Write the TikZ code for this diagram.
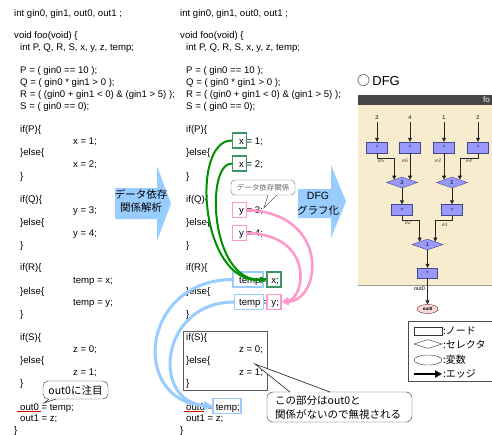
\documentclass[tikz,border=0pt]{standalone}
\usepackage{fontspec}
\setmainfont{Liberation Sans}
\newfontfamily\cjk{Noto Sans CJK JP}
\usetikzlibrary{arrows.meta,shapes.geometric,calc}
\definecolor{arrowblue}{RGB}{153,204,255}
\definecolor{cgreen}{RGB}{0,145,0}
\definecolor{gboxc}{RGB}{60,150,100}
\definecolor{cpink}{RGB}{255,153,204}
\definecolor{cblue}{RGB}{153,204,255}
\definecolor{beige}{RGB}{248,236,206}
\definecolor{dfgfill}{RGB}{153,153,255}
\definecolor{dfgline}{RGB}{70,70,140}
\definecolor{hdrgray}{RGB}{70,70,70}
\definecolor{voutfill}{RGB}{250,215,215}
\definecolor{voutline}{RGB}{110,40,40}
\begin{document}
\begin{tikzpicture}[x=1pt,y=-1pt,
  codeln/.style={font=\fontsize{9.6}{11}\selectfont, inner sep=0pt, anchor=base west},
  hlbox/.style={draw, line width=1.2pt, minimum height=15pt, inner sep=0pt},
  greenarr/.style={draw=cgreen, line width=2pt, -{Triangle[length=6pt,width=6pt]}},
  pinkarr/.style={draw=cpink, line width=2.6pt, -{Triangle[length=7pt,width=7pt]}},
  bluearr/.style={draw=cblue, line width=3pt, -{Triangle[length=8pt,width=8pt]}},
  blocktxt/.style={font=\cjk\fontsize{10.5}{13}\selectfont, align=center, inner sep=0pt},
  dfgrect/.style={draw=dfgline, fill=dfgfill, minimum width=21pt, minimum height=11pt, inner sep=0pt, font=\fontsize{5}{5}\selectfont},
  dfgdia/.style={diamond, draw=dfgline, fill=dfgfill, minimum width=31pt, minimum height=11pt, inner sep=0pt, font=\fontsize{5.5}{5.5}\selectfont},
  dfglab/.style={font=\fontsize{5.5}{5.5}\selectfont, inner sep=0pt},
  elab/.style={font=\itshape\fontsize{5}{5}\selectfont, text=black!75, inner sep=0pt},
  dfgarr/.style={draw=black!85, line width=0.7pt, -{Triangle[length=4pt,width=4pt]}},
  legtxt/.style={font=\cjk\fontsize{10}{10}\selectfont, anchor=west, inner sep=0pt}
]
\useasboundingbox (0,0) rectangle (492,434);
\clip (0,0) rectangle (492,434);
\fill[white] (0,0) rectangle (492,434);

% ---------- block arrows ----------
\fill[arrowblue] (115,188) -- (157,188) -- (157,166) -- (171,203.5) -- (157,241) -- (157,219) -- (115,219) -- cycle;
\fill[arrowblue] (298,189) -- (331,189) -- (331,165) -- (346,201.5) -- (331,238) -- (331,218) -- (298,218) -- cycle;
\node[blocktxt] (ta1) at (141,200.5) {データ依存\\関係解析};
\node[font=\fontsize{10.5}{10.5}\selectfont, inner sep=0pt] (ta2) at (318,196) {DFG};
\node[blocktxt] (ta3) at (318,210.5) {グラフ化};

% ---------- code listings ----------
\foreach \xx/\yy/\txt [count=\i] in {
 14/13/{int gin0, gin1, out0, out1 ;},
 14/35/{void foo(void) \{},
 20/47/{int P, Q, R, S, x, y, z, temp;},
 20/70/{P = ( gin0 == 10 );},
 20/82/{Q = ( gin0 * gin1 > 0 );},
 20/94/{R = ( (gin0 + gin1 < 0) \& (gin1 > 5) );},
 20/106/{S = ( gin0 == 0);},
 20/129/{if(P)\{},
 73/141/{x = 1;},
 20/152/{\}else\{},
 73/164/{x = 2;},
 20/176/{\}},
 20/199/{if(Q)\{},
 73/210/{y = 3;},
 20/222/{\}else\{},
 73/233/{y = 4;},
 20/245/{\}},
 20/267/{if(R)\{},
 73/280/{temp = x;},
 20/291/{\}else\{},
 73/302/{temp = y;},
 20/314/{\}},
 20/337/{if(S)\{},
 73/349/{z = 0;},
 20/360/{\}else\{},
 73/372/{z = 1;},
 20/383/{\}},
 20/407/{out0 = temp;},
 20/418/{out1 = z;},
 14/430/{\}}}
{
 \node[codeln] (a\i) at (\xx,\yy+3.3) {\txt};
 \node[codeln] (b\i) at (\xx+166,\yy+3.3) {\txt};
}

% red underlines
\draw[red!85!black, line width=1pt] (17,411) -- (41,411);
\draw[red!85!black, line width=1pt] (184,411) -- (204,411);

% ---------- highlight boxes ----------
\node[hlbox, draw=gboxc, minimum width=14pt] (bx1) at (239.5,140.5) {};
\node[hlbox, draw=gboxc, minimum width=14pt] (bx2) at (239.5,163.5) {};
\node[hlbox, draw=cpink, minimum width=14pt] (by1) at (239.5,210) {};
\node[hlbox, draw=cpink, minimum width=14pt] (by2) at (239.5,233) {};
\node[hlbox, draw=cblue, minimum width=30pt] (btx) at (248,279.5) {};
\node[hlbox, draw=gboxc, minimum width=14pt] (bxx) at (274,279.5) {};
\node[hlbox, draw=cblue, minimum width=29pt] (bty) at (249,302) {};
\node[hlbox, draw=cpink, minimum width=14pt] (byy) at (274,302) {};
\node[hlbox, draw=cblue, minimum width=28pt] (bt) at (227,406) {};

% S block box
\node[draw=black!65, line width=1pt, minimum width=84pt, minimum height=59pt, inner sep=0pt] (sbox) at (225,360.5) {};

% ---------- dependency curves ----------
\draw[greenarr] (bx1.west) .. controls (190,140) and (200,285) .. (bxx.west);
\draw[greenarr] (bx2.west) .. controls (205,163) and (210,282) .. (bxx.west);
\draw[pinkarr] (by1.east) .. controls (330,213) and (322,300) .. (byy.east);
\draw[pinkarr] (by2.east) .. controls (315,235) and (305,298) .. (byy.east);
\draw[bluearr] (btx.west) .. controls (140,280) and (130,402) .. (bt.west);
\draw[bluearr] (bty.west) .. controls (160,302) and (150,402) .. (bt.west);

% ---------- callouts ----------
\node[draw=black!60, fill=white, rounded corners=4pt, minimum width=64pt, minimum height=15pt, inner sep=0pt,
  font=\cjk\fontsize{7.5}{7.5}\selectfont, text=black!60] (c1) at (263,187.5) {データ依存関係};
\fill[white] (268.5,194.4) -- (264,208) -- (276.5,194.4) -- cycle;
\draw[black!60, line width=0.6pt] (268,195) -- (264,208) -- (277,195);

\node[draw=black!80, fill=white, rounded corners=5pt, minimum width=65pt, minimum height=18pt, inner sep=0pt,
  font=\cjk\fontsize{10.5}{10.5}\selectfont] (c0) at (75.5,390) {out0に注目};
\fill[white] (49,398.5) -- (44,403) -- (56,398.5) -- cycle;
\draw[black!80, line width=0.6pt] (49,399) -- (44,403) -- (56,399);

\node[draw=black!80, fill=white, rounded corners=6pt, minimum width=145pt, minimum height=30pt, inner sep=0pt] (c2) at (339.5,407) {};
\fill[white] (291,392.7) -- (255,364) -- (329,392.7) -- cycle;
\draw[black!80, line width=0.7pt] (290,392) -- (255,364) -- (330,392);
\node[font=\cjk\fontsize{10.5}{14.5}\selectfont, align=left, anchor=west, inner sep=0pt] (c2t) at (275,407.5) {この部分はout0と\\関係がないので無視される};

% ---------- DFG panel ----------
\node[anchor=base west, inner sep=0pt, font=\fontsize{13}{13}\selectfont] (dfgt) at (357,85) {{\cjk ○}\,DFG};
\fill[hdrgray] (358,95) rectangle (492,105);
\node[anchor=west, inner sep=0pt, text=white, font=\fontsize{8}{8}\selectfont] (hdr) at (483,100) {fo};
\fill[beige] (358,105) rectangle (492,285);
\draw[black!40, line width=0.8pt] (358,285) -- (492,285);

\node[dfglab] (t1) at (377,118) {3};
\node[dfglab] (t2) at (410,118) {4};
\node[dfglab] (t3) at (444,118) {1};
\node[dfglab] (t4) at (478,118) {2};
\node[dfgrect] (r1) at (377,147.5) {=};
\node[dfgrect] (r2) at (410,147.5) {=};
\node[dfgrect] (r3) at (444,147.5) {=};
\node[dfgrect] (r4) at (478,147.5) {=};
\node[dfgdia] (d3) at (402,182.5) {3};
\node[dfgdia] (d2) at (452,182.5) {2};
\node[dfgrect] (r5) at (402,210) {=};
\node[dfgrect] (r6) at (452,210) {=};
\node[dfgdia] (d1) at (427.5,244.5) {1};
\node[dfgrect, minimum width=20pt, minimum height=10pt] (r7) at (427.5,273) {=};
\node[ellipse, draw=voutline, fill=voutfill, minimum width=21pt, minimum height=9pt, inner sep=0pt,
  font=\bfseries\fontsize{4.5}{4.5}\selectfont] (vout) at (427.5,309) {out0};

\coordinate (d3nw) at ($(d3.north)!0.5!(d3.west)$);
\coordinate (d3ne) at ($(d3.north)!0.5!(d3.east)$);
\coordinate (d2nw) at ($(d2.north)!0.5!(d2.west)$);
\coordinate (d2ne) at ($(d2.north)!0.5!(d2.east)$);
\coordinate (d1nw) at ($(d1.north)!0.5!(d1.west)$);
\coordinate (d1ne) at ($(d1.north)!0.5!(d1.east)$);

\draw[dfgarr] (t1.south) ++(0,2) -- (r1.north);
\draw[dfgarr] (t2.south) ++(0,2) -- (r2.north);
\draw[dfgarr] (t3.south) ++(0,2) -- (r3.north);
\draw[dfgarr] (t4.south) ++(0,2) -- (r4.north);
\draw[dfgarr] (r1.south) -- ++(0,5) -| (d3nw);
\draw[dfgarr] (r2.south) -- (r2.south |- d3ne);
\draw[dfgarr] (r3.south) -- (r3.south |- d2nw);
\draw[dfgarr] (r4.south) -- ++(0,5) -| (d2ne);
\draw[dfgarr] (d3.south) -- (r5.north);
\draw[dfgarr] (d2.south) -- (r6.north);
\draw[dfgarr] (r5.south) -- ++(0,5) -| (d1nw);
\draw[dfgarr] (r6.south) -- ++(0,5) -| (d1ne);
\draw[dfgarr] (d1.south) -- (r7.north);
\draw[dfgarr] (r7.south) -- (vout.north);

\node[elab] (e5) at (381,161) {e5};
\node[elab] (e6) at (405,161) {e6};
\node[elab] (e3) at (438,161) {e3};
\node[elab] (e4) at (469,161) {e4};
\node[elab] (e2) at (408,223) {e2};
\node[elab] (e1) at (445,225) {e1};
\node[dfglab] (o0) at (419.5,288.5) {out0};

% ---------- legend ----------
\node[draw=black!70, line width=0.8pt, minimum width=92pt, minimum height=60pt, inner sep=0pt] (leg) at (454,351) {};
\node[draw=black!80, minimum width=28pt, minimum height=8pt, inner sep=0pt] (lg1) at (428,331) {};
\node[diamond, draw=black!80, minimum width=28pt, minimum height=9pt, inner sep=0pt] (lg2) at (428,344) {};
\node[ellipse, draw=black!80, minimum width=28pt, minimum height=10pt, inner sep=0pt] (lg3) at (428,360) {};
\coordinate (lg4a) at (414,374);
\coordinate (lg4b) at (442,374);
\draw[line width=2pt, -{Triangle[length=7pt,width=7pt]}] (lg4a) -- (lg4b);
\node[legtxt] (lt1) at (443,331) {:ノード};
\node[legtxt] (lt2) at (443,344.5) {:セレクタ};
\node[legtxt] (lt3) at (443,360) {:変数};
\node[legtxt] (lt4) at (443,374) {:エッジ};
\end{tikzpicture}
\end{document}
